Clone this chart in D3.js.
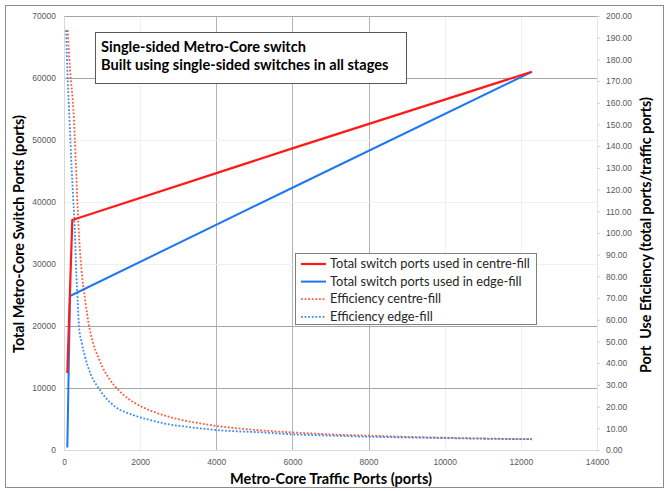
<!DOCTYPE html>
<html>
<head>
<meta charset="utf-8">
<script src="https://cdn.jsdelivr.net/npm/d3@7"></script>
<style>
  body { margin: 0; background: #fff; }
  svg { display: block; font-family: Lato, "Open Sans", sans-serif; }
</style>
</head>
<body>
<div id="chart"></div>
<script>
// values
const xTicks = [0, 2000, 4000, 6000, 8000, 10000, 12000, 14000];
const yTicks = [0, 10000, 20000, 30000, 40000, 50000, 60000, 70000];
const y2Ticks = d3.range(0, 201, 10);
const darkX = [4000, 6000, 8000];
const darkY = [10000, 20000, 60000, 70000];

const centreX = [87, 218, 6000, 12288];
const centreY = [12400, 37100, 48650, 61000];
const edgeX = [87, 158, 6000, 12288];
const edgeY = [400, 24840, 42300, 61000];

const effCentreX = [97, 160, 245, 307, 360, 400, 460, 550, 660, 770, 900, 1000, 1200, 1420, 1700, 2000, 2400, 3000, 3600, 4000, 5000, 6000, 7000, 8000, 9000, 10000, 11000, 12288];
const effCentreY = [193.5, 175, 157, 134, 111, 97, 83, 70, 57, 49, 42.7, 38.6, 32.5, 27.8, 23.5, 20.3, 17.3, 14.2, 12.2, 11.1, 9.3, 8.1, 7.2, 6.6, 6.05, 5.65, 5.3, 4.96];
const effEdgeX = [52, 100, 150, 200, 245, 289, 315, 359, 394, 470, 552, 700, 901, 1100, 1340, 1820, 2259, 2697, 3178, 4010, 5324, 6000, 6724, 8000, 9000, 10000, 11000, 12288];
const effEdgeY = [193.5, 170, 150, 130, 115, 100, 85, 69, 57, 49, 43, 35, 28.7, 24, 20, 16.1, 13.8, 12, 10.8, 9.2, 8, 7.2, 6.8, 6.1, 5.8, 5.5, 5.2, 4.96];

const legendLabels = [
	"Total switch ports used in centre-fill",
	"Total switch ports used in edge-fill",
	"Efficiency centre-fill",
	"Efficiency edge-fill",
];

const W = 669, H = 491;
const M = {top: 16, right: 72, bottom: 41, left: 64};

const svg = d3.select("#chart").append("svg")
	.attr("width", W)
	.attr("height", H);

// scale a text's font so it spans the width seen in the reference
function fitWidth(sel, target) {
	const base = parseFloat(sel.attr("font-size"));
	const w = sel.node().getComputedTextLength();
	const size = base * target / w;
	sel.attr("font-size", size.toFixed(2) + "px");
	return size;
}

// outer frame
svg.append("rect")
	.attr("x", 5.5).attr("y", 5.5)
	.attr("width", 658).attr("height", 482)
	.attr("fill", "#fff")
	.attr("stroke", "#8c8c8c");

const x = d3.scaleLinear().domain([0, 14000]).range([M.left, W - M.right]);
const y = d3.scaleLinear().domain([0, 70000]).range([H - M.bottom, M.top]);
const y2 = d3.scaleLinear().domain([0, 200]).range([H - M.bottom, M.top]);

// gridlines
svg.append("g").selectAll("line")
	.data(xTicks.slice(1, -1))
	.join("line")
	.attr("x1", d => Math.round(x(d)) + 0.5).attr("x2", d => Math.round(x(d)) + 0.5)
	.attr("y1", y(70000)).attr("y2", y(0))
	.attr("stroke", d => darkX.includes(d) ? "#b4b4b4" : "#f0f0f0");

svg.append("g").selectAll("line")
	.data(yTicks.slice(1))
	.join("line")
	.attr("x1", x(0)).attr("x2", x(14000))
	.attr("y1", d => Math.round(y(d)) + 0.5).attr("y2", d => Math.round(y(d)) + 0.5)
	.attr("stroke", d => darkY.includes(d) ? "#a6a6a6" : "#f0f0f0");

// axes
const tickFont = g => g.selectAll("text")
	.attr("fill", "#595959")
	.attr("font-size", "8.5px");

svg.append("g")
	.attr("transform", `translate(0,${y(0)})`)
	.call(d3.axisBottom(x).tickValues(xTicks).tickSize(0).tickPadding(9).tickFormat(d3.format("d")))
	.call(g => g.select(".domain").attr("stroke", "#d9d9d9"))
	.call(tickFont);

svg.append("g")
	.attr("transform", `translate(${x(0)},0)`)
	.call(d3.axisLeft(y).tickValues(yTicks).tickSize(0).tickPadding(8).tickFormat(d3.format("d")))
	.call(g => g.select(".domain").attr("stroke", "#d9d9d9"))
	.call(tickFont);

svg.append("g")
	.attr("transform", `translate(${x(14000)},0)`)
	.call(d3.axisRight(y2).tickValues(y2Ticks).tickSize(3).tickPadding(6).tickFormat(d3.format(".2f")))
	.call(g => g.select(".domain").attr("stroke", "#e6e6e6"))
	.call(g => g.selectAll(".tick line").attr("stroke", "#d0d0d0"))
	.call(tickFont);

// axis titles
const yTitle = svg.append("text")
	.attr("transform", `translate(24,${(y(0) + y(70000)) / 2 + 1}) rotate(-90)`)
	.attr("text-anchor", "middle")
	.attr("font-weight", "bold")
	.attr("font-size", "12.5px")
	.text("Total Metro-Core Switch Ports (ports)");
fitWidth(yTitle, 238);

const xTitle = svg.append("text")
	.attr("x", 331).attr("y", 484)
	.attr("text-anchor", "middle")
	.attr("font-weight", "bold")
	.attr("font-size", "12.5px")
	.text("Metro-Core Traffic Ports (ports)");
fitWidth(xTitle, 202);

const y2Title = svg.append("text")
	.attr("transform", `translate(651,235) rotate(-90)`)
	.attr("text-anchor", "middle")
	.attr("font-weight", "bold")
	.attr("font-size", "12.5px")
	.style("white-space", "pre")
	.text("Port  Use Eficiency (total ports/traffic ports)");
fitWidth(y2Title, 276);

// series
const line = d3.line().x(d => x(d[0]));
const pairs = (xs, ys) => xs.map((v, i) => [v, ys[i]]);

const series = [
	{pts: pairs(effCentreX, effCentreY), yy: y2, color: "#ff5a3a", width: 1.8, dash: "1.8,1.8", curve: d3.curveMonotoneX},
	{pts: pairs(effEdgeX, effEdgeY), yy: y2, color: "#3a8cf5", width: 1.8, dash: "1.8,1.8", curve: d3.curveMonotoneX},
	{pts: pairs(edgeX, edgeY), yy: y, color: "#1f77f0", width: 2, dash: null, curve: d3.curveLinear},
	{pts: pairs(centreX, centreY), yy: y, color: "#ff1a1a", width: 2.2, dash: null, curve: d3.curveLinear},
];

for (const s of series) {
	svg.append("path")
		.attr("d", line.curve(s.curve).y(d => s.yy(d[1]))(s.pts))
		.attr("fill", "none")
		.attr("stroke", s.color)
		.attr("stroke-width", s.width)
		.attr("stroke-dasharray", s.dash);
}

// title box
svg.append("rect")
	.attr("x", 95.5).attr("y", 32.5)
	.attr("width", 311).attr("height", 51)
	.attr("fill", "#fff")
	.attr("stroke", "#595959");

const t1 = svg.append("text")
	.attr("x", 101).attr("y", 51.5)
	.attr("font-weight", "bold")
	.attr("font-size", "13px")
	.text("Single-sided Metro-Core switch");
const t2 = svg.append("text")
	.attr("x", 101).attr("y", 70)
	.attr("font-weight", "bold")
	.attr("font-size", "13px")
	.text("Built using single-sided switches in all stages");
const s1 = fitWidth(t1, 204);
const s2 = fitWidth(t2, 289);
const ts = ((s1 + s2) / 2).toFixed(2) + "px";
t1.attr("font-size", ts);
t2.attr("font-size", ts);

// legend
const legend = svg.append("g");
legend.append("rect")
	.attr("x", 295.5).attr("y", 253.5)
	.attr("width", 241).attr("height", 71)
	.attr("fill", "#fff")
	.attr("stroke", "#7f7f7f");

const legendStyle = [series[3], series[2], series[0], series[1]];
const legendTexts = [];
legendLabels.forEach((label, i) => {
	const s = legendStyle[i];
	const cy = 264 + i * 17.6;
	legend.append("line")
		.attr("x1", 301).attr("x2", 326)
		.attr("y1", cy).attr("y2", cy)
		.attr("stroke", s.color)
		.attr("stroke-width", s.width)
		.attr("stroke-dasharray", s.dash);
	legendTexts.push(legend.append("text")
		.attr("x", 330).attr("y", cy + 4)
		.attr("font-size", "11px")
		.attr("fill", "#262626")
		.text(label));
});
const ls = fitWidth(legendTexts[0], 200).toFixed(2) + "px";
legendTexts.forEach(t => t.attr("font-size", ls));
</script>
</body>
</html>
